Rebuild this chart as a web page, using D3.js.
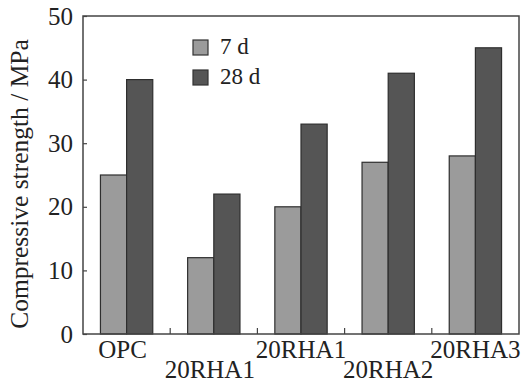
<!DOCTYPE html>
<html>
<head>
<meta charset="utf-8">
<script src="https://cdn.jsdelivr.net/npm/d3@7"></script>
<style>
  html, body { margin: 0; padding: 0; background: #fff; }
  svg { display: block; }
  text { font-family: "Liberation Serif", "Times New Roman", serif; fill: #222; }
</style>
</head>
<body>
<svg id="chart" width="522" height="382"></svg>
<script>
// Compressive strength of mortar mixes at 7 and 28 days
const categories = ["OPC", "20RHA1", "20RHA1", "20RHA2", "20RHA3"];
const seriesNames = ["7 d", "28 d"];
const strength7d = [25, 12, 20, 27, 28];
const strength28d = [40, 22, 33, 41, 45];
const yTicks = [0, 10, 20, 30, 40, 50];

const seriesValues = [strength7d, strength28d];
const fills = ["#9b9b9b", "#555555"];

const svg = d3.select("#chart");
const margin = { left: 83, right: 3, top: 16, bottom: 48 };
const W = 522, H = 382;
const x0 = margin.left, x1 = W - margin.right;
const y0 = H - margin.bottom, y1 = margin.top;

const x = d3.scaleBand()
  .domain(d3.range(categories.length))
  .range([x0, x1])
  .padding(0);

const xs = d3.scaleBand()
  .domain(d3.range(seriesNames.length))
  .range([x.bandwidth() * 0.2, x.bandwidth() * 0.8])
  .padding(0);

const y = d3.scaleLinear().domain([0, 50]).range([y0, y1]);

// bars
const groups = svg.append("g")
  .selectAll("g")
  .data(categories.map((c, i) => i))
  .join("g")
  .attr("transform", i => `translate(${x(i)},0)`);

groups.selectAll("rect")
  .data(i => seriesValues.map((vals, s) => ({ s, v: vals[i] })))
  .join("rect")
  .attr("x", d => xs(d.s))
  .attr("width", xs.bandwidth())
  .attr("y", d => y(d.v))
  .attr("height", d => y(0) - y(d.v))
  .attr("fill", d => fills[d.s])
  .attr("stroke", "#2e2e2e")
  .attr("stroke-width", 1.2);

// frame
svg.append("rect")
  .attr("x", x0).attr("y", y1)
  .attr("width", x1 - x0).attr("height", y0 - y1)
  .attr("fill", "none")
  .attr("stroke", "#444")
  .attr("stroke-width", 1.5);

// y axis (ticks pointing inward)
const yAxis = d3.axisLeft(y).tickValues(yTicks).tickSize(-4).tickPadding(10).tickFormat(d3.format("d"));
const yg = svg.append("g").attr("transform", `translate(${x0},0)`).call(yAxis);
yg.select(".domain").remove();
yg.selectAll(".tick line").attr("stroke", "#444").attr("stroke-width", 1.2);
yg.selectAll(".tick text")
  .style("font-family", "'Liberation Serif', serif")
  .style("font-size", "25px")
  .attr("fill", "#222");

// x axis: inward ticks at category boundaries
const boundaries = d3.range(1, categories.length).map(i => x(i));
svg.append("g").selectAll("line")
  .data(boundaries)
  .join("line")
  .attr("x1", d => d).attr("x2", d => d)
  .attr("y1", y0).attr("y2", y0 - 6)
  .attr("stroke", "#444").attr("stroke-width", 1.2);

// staggered category labels
svg.append("g").selectAll("text")
  .data(categories.map((c, i) => ({ c, i })))
  .join("text")
  .attr("x", d => x(d.i) + x.bandwidth() / 2 - (d.i < 2 ? 4 : 0))
  .attr("y", d => (d.i === 1 || d.i === 3) ? 378 : 358)
  .attr("text-anchor", "middle")
  .style("font-size", "25px")
  .text(d => d.c);

// y axis title
svg.append("text")
  .attr("transform", `translate(28,${(y0 + y1) / 2 + 9}) rotate(-90)`)
  .attr("text-anchor", "middle")
  .style("font-size", "25.5px")
  .text("Compressive strength / MPa");

// legend
const legend = svg.append("g").attr("transform", "translate(193,40)");
seriesNames.forEach((name, s) => {
  const g = legend.append("g").attr("transform", `translate(0,${s * 30})`);
  g.append("rect")
    .attr("width", 15).attr("height", 15)
    .attr("fill", fills[s])
    .attr("stroke", "#333").attr("stroke-width", 1.2);
  g.append("text")
    .attr("x", 27).attr("y", 14)
    .style("font-size", "23px")
    .text(name);
});
</script>
</body>
</html>
